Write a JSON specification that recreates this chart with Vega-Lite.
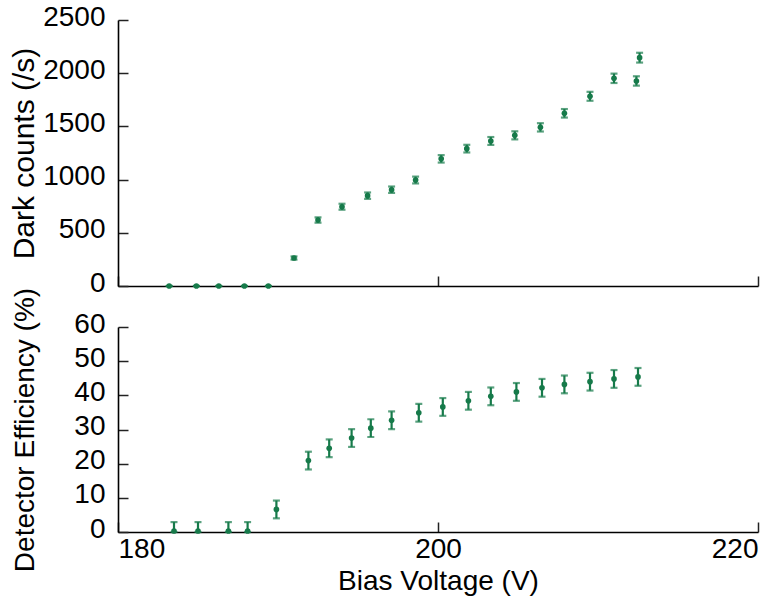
{
  "$schema": "https://vega.github.io/schema/vega-lite/v6.json",
  "background": "white",
  "padding": {"left": 8, "top": 3, "right": 5, "bottom": 5},
  "bounds": "flush",
  "spacing": 41,
  "config": {
    "view": {"stroke": null},
    "font": "Liberation Sans",
    "axis": {
      "grid": false,
      "domainColor": "#000000",
      "domainWidth": 1.6,
      "tickColor": "#222222",
      "tickWidth": 1.5,
      "tickSize": -10,
      "labelFont": "Liberation Sans",
      "labelFontSize": 28,
      "labelColor": "#000000",
      "titleFont": "Liberation Sans",
      "titleFontSize": 28,
      "titleFontWeight": "normal",
      "titleColor": "#000000"
    }
  },
  "datasets": {
    "dark": [
      {"v": 183.2, "dc": 0, "lo": 0, "hi": 0},
      {"v": 184.9, "dc": 0, "lo": 0, "hi": 0},
      {"v": 186.3, "dc": 0, "lo": 0, "hi": 0},
      {"v": 187.9, "dc": 0, "lo": 0, "hi": 0},
      {"v": 189.4, "dc": 0, "lo": 0, "hi": 0},
      {"v": 191.0, "dc": 263, "lo": 248, "hi": 278},
      {"v": 192.5, "dc": 620, "lo": 595, "hi": 645},
      {"v": 194.0, "dc": 745, "lo": 717, "hi": 773},
      {"v": 195.6, "dc": 849, "lo": 819, "hi": 879},
      {"v": 197.1, "dc": 905, "lo": 875, "hi": 935},
      {"v": 198.6, "dc": 996, "lo": 964, "hi": 1028},
      {"v": 200.2, "dc": 1195, "lo": 1160, "hi": 1230},
      {"v": 201.8, "dc": 1291, "lo": 1255, "hi": 1327},
      {"v": 203.3, "dc": 1363, "lo": 1326, "hi": 1400},
      {"v": 204.8, "dc": 1416, "lo": 1378, "hi": 1454},
      {"v": 206.4, "dc": 1491, "lo": 1452, "hi": 1530},
      {"v": 207.9, "dc": 1623, "lo": 1583, "hi": 1663},
      {"v": 209.5, "dc": 1783, "lo": 1741, "hi": 1825},
      {"v": 211.0, "dc": 1952, "lo": 1908, "hi": 1996},
      {"v": 212.4, "dc": 1927, "lo": 1883, "hi": 1971},
      {"v": 212.6, "dc": 2146, "lo": 2100, "hi": 2192}
    ],
    "eff": [
      {"v": 183.5, "e": 0.3, "lo": 0, "hi": 2.9},
      {"v": 185.0, "e": 0.3, "lo": 0, "hi": 2.9},
      {"v": 186.9, "e": 0.3, "lo": 0, "hi": 2.9},
      {"v": 188.1, "e": 0.3, "lo": 0, "hi": 2.9},
      {"v": 189.9, "e": 6.6, "lo": 4.0, "hi": 9.2},
      {"v": 191.9, "e": 20.9, "lo": 18.3, "hi": 23.5},
      {"v": 193.2, "e": 24.5, "lo": 21.9, "hi": 27.1},
      {"v": 194.6, "e": 27.5, "lo": 24.9, "hi": 30.1},
      {"v": 195.8, "e": 30.4, "lo": 27.8, "hi": 33.0},
      {"v": 197.1, "e": 32.7, "lo": 30.1, "hi": 35.3},
      {"v": 198.8, "e": 34.9, "lo": 32.3, "hi": 37.5},
      {"v": 200.3, "e": 36.6, "lo": 34.0, "hi": 39.2},
      {"v": 201.9, "e": 38.4, "lo": 35.8, "hi": 41.0},
      {"v": 203.3, "e": 39.7, "lo": 37.1, "hi": 42.3},
      {"v": 204.9, "e": 41.0, "lo": 38.4, "hi": 43.6},
      {"v": 206.5, "e": 42.2, "lo": 39.6, "hi": 44.8},
      {"v": 207.9, "e": 43.2, "lo": 40.6, "hi": 45.8},
      {"v": 209.5, "e": 44.0, "lo": 41.4, "hi": 46.6},
      {"v": 211.0, "e": 44.8, "lo": 42.2, "hi": 47.4},
      {"v": 212.5, "e": 45.4, "lo": 42.8, "hi": 48.0}
    ]
  },
  "vconcat": [
    {
      "width": 640,
      "height": 266,
      "data": {"name": "dark"},
      "encoding": {
        "x": {
          "field": "v", "type": "quantitative",
          "scale": {"domain": [180, 220], "nice": false, "zero": false},
          "axis": {"values": [180, 200, 220], "labels": false, "title": null}
        }
      },
      "layer": [
        {
          "mark": {"type": "errorbar", "color": "#167a4a", "thickness": 2.2, "ticks": {"size": 7, "thickness": 2.2, "color": "#167a4a"}},
          "encoding": {
            "y": {
              "field": "lo", "type": "quantitative",
              "scale": {"domain": [0, 2500], "nice": false},
              "axis": {"values": [0, 500, 1000, 1500, 2000, 2500], "format": "d", "title": "Dark counts (/s)", "titleFontSize": 30, "titleX": -85, "titleBaseline": "alphabetic", "labelPadding": 23, "labelOffset": -3}
            },
            "y2": {"field": "hi"}
          }
        },
        {
          "mark": {"type": "point", "filled": true, "size": 32, "color": "#167a4a", "opacity": 1},
          "encoding": {
            "y": {
              "field": "dc", "type": "quantitative",
              "scale": {"domain": [0, 2500], "nice": false},
              "axis": {"values": [0, 500, 1000, 1500, 2000, 2500], "format": "d", "title": "Dark counts (/s)", "titleFontSize": 30, "titleX": -85, "titleBaseline": "alphabetic", "labelPadding": 23, "labelOffset": -3}
            }
          }
        }
      ]
    },
    {
      "width": 640,
      "height": 205,
      "data": {"name": "eff"},
      "encoding": {
        "x": {
          "field": "v", "type": "quantitative",
          "scale": {"domain": [180, 220], "nice": false, "zero": false},
          "axis": {"values": [180, 200, 220], "format": "d", "title": "Bias Voltage (V)", "labelPadding": 13, "titleY": 57, "titleBaseline": "alphabetic"}
        }
      },
      "layer": [
        {
          "mark": {"type": "errorbar", "color": "#167a4a", "thickness": 2.2, "ticks": {"size": 7, "thickness": 2.2, "color": "#167a4a"}},
          "encoding": {
            "y": {
              "field": "lo", "type": "quantitative",
              "scale": {"domain": [0, 60], "nice": false},
              "axis": {"values": [0, 10, 20, 30, 40, 50, 60], "format": "d", "title": "Detector Efficiency (%)", "titleX": -85, "titleBaseline": "alphabetic", "labelPadding": 23, "labelOffset": -3}
            },
            "y2": {"field": "hi"}
          }
        },
        {
          "mark": {"type": "point", "filled": true, "size": 32, "color": "#167a4a", "opacity": 1},
          "encoding": {
            "y": {
              "field": "e", "type": "quantitative",
              "scale": {"domain": [0, 60], "nice": false},
              "axis": {"values": [0, 10, 20, 30, 40, 50, 60], "format": "d", "title": "Detector Efficiency (%)", "titleX": -85, "titleBaseline": "alphabetic", "labelPadding": 23, "labelOffset": -3}
            }
          }
        }
      ]
    }
  ]
}
